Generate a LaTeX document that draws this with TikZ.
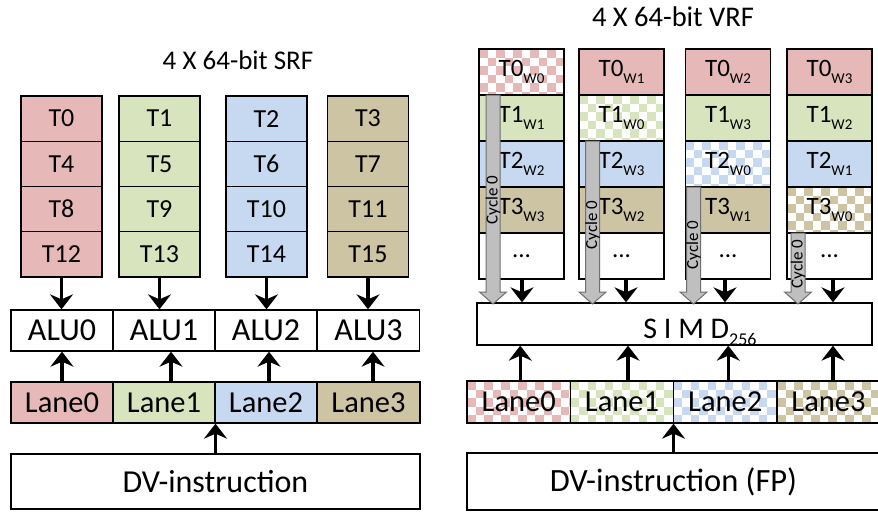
\documentclass[tikz,border=0pt]{standalone}
\usepackage{fontspec}
\setmainfont{Carlito}
\usetikzlibrary{arrows.meta}
\definecolor{cpink}{HTML}{E6B9B8}
\definecolor{cgreen}{HTML}{D7E4BD}
\definecolor{cblue}{HTML}{C6D9F1}
\definecolor{colive}{HTML}{CCC4A2}
\definecolor{cgray}{HTML}{BFBFBF}
\definecolor{cgrayline}{HTML}{6F6F6F}
\newcommand\fs[1]{\fontsize{#1}{#1}\selectfont}
\newcommand\Wsub[1]{\raisebox{-0.3em}{\fs{15}#1}}
\newcommand\chk[5]{%
  \begin{scope}
    \clip (#1,#2) rectangle (#3,#4);
    \fill[white] (#1,#2) rectangle (#3,#4);
    \foreach \i in {0,...,13}{\foreach \j in {0,...,6}{%
      \pgfmathtruncatemacro\chkp{mod(\i+\j,2)}%
      \ifnum\chkp=0 \fill[#5] ({#1+\i*8.5},{#2+\j*8.5}) rectangle ++(8.5,8.5);\fi
    }}
  \end{scope}}
\begin{document}
\begin{tikzpicture}[x=1pt,y=-1pt,
  box/.style={draw=black, line width=1.3pt, inner sep=0pt},
  lcell/.style={box, minimum width=81pt, minimum height=45.25pt, font=\fs{26}},
  rcell/.style={box, minimum width=85pt, minimum height=46pt, font=\fs{25}},
  blk/.style={line width=3.4pt, -{Stealth[length=15pt,width=23pt,inset=5pt]}},
  garr/.style={draw=cgrayline, fill=cgray, line width=1pt},
  cyc/.style={rotate=90, font=\fs{17}, inner sep=0pt},
  lane/.style={box, minimum height=41pt, font=\fs{30.5}}
]
\useasboundingbox (0,0) rectangle (878,512);
\fill[white] (0,0) rectangle (878,512);

% ---------------- LEFT: SRF ----------------
\node[font=\fs{27}] (srf) at (238,60) {4 X 64-bit SRF};

\foreach \c/\x/\col/\a/\b/\cc/\d in {0/61.5/cpink/T0/T4/T8/T12, 1/159.5/cgreen/T1/T5/T9/T13, 2/266.5/cblue/T2/T6/T10/T14, 3/368/colive/T3/T7/T11/T15}{
  \node[lcell, fill=\col] (s\c0) at (\x,118.6) {\a};
  \node[lcell, fill=\col] (s\c1) at (\x,163.9) {\b};
  \node[lcell, fill=\col] (s\c2) at (\x,209.1) {\cc};
  \node[lcell, fill=\col] (s\c3) at (\x,254.4) {\d};
}

\foreach \i/\x in {0/62,1/164,2/266,3/368.5}{
  \node[box, minimum width=102pt, minimum height=41pt, font=\fs{32}] (alu\i) at (\x,330.5) {ALU\i};
}
\node[lane, fill=cpink,  minimum width=102pt] (ln0) at (62,402.5) {Lane0};
\node[lane, fill=cgreen, minimum width=102pt] (ln1) at (164,402.5) {Lane1};
\node[lane, fill=cblue,  minimum width=102pt] (ln2) at (266,402.5) {Lane2};
\node[lane, fill=colive, minimum width=103pt] (ln3) at (368.5,402.5) {Lane3};

\node[box, minimum width=409pt, minimum height=55pt, font=\fs{32}] (dv) at (215.5,481.5) {DV-instruction};

\foreach \c in {0,1,2,3}{
  \draw[blk] (s\c3.south) -- (s\c3.south |- alu\c.north);
}
\draw[blk] (ln0.north) -- (ln0.north |- alu0.south);
\draw[blk] ([xshift=7pt]ln1.north) -- ([xshift=7pt]ln1.north |- alu1.south);
\draw[blk] ([xshift=3pt]ln2.north) -- ([xshift=3pt]ln2.north |- alu2.south);
\draw[blk] ([xshift=4.5pt]ln3.north) -- ([xshift=4.5pt]ln3.north |- alu3.south);
\draw[blk] (dv.north) -- (dv.north |- ln1.south);

% ---------------- RIGHT: VRF ----------------
\node[font=\fs{28.5}] (vrf) at (673,17) {4 X 64-bit VRF};

% checkered backgrounds
\chk{479}{49}{564}{95}{cpink}
\chk{579}{95}{664}{141}{cgreen}
\chk{685}{141}{771}{187}{cblue}
\chk{787}{187}{872}{233}{colive}
\chk{467}{381}{570.5}{423}{cpink}
\chk{570.5}{381}{673.5}{423}{cgreen}
\chk{673.5}{381}{777}{423}{cblue}
\chk{777}{381}{880}{423}{colive}

% column A
\node[rcell]              (a0) at (521.5,72)  {T0\Wsub{W0}};
\node[rcell, fill=cgreen] (a1) at (521.5,118) {T1\Wsub{W1}};
\node[rcell, fill=cblue]  (a2) at (521.5,164) {T2\Wsub{W2}};
\node[rcell, fill=colive] (a3) at (521.5,210) {T3\Wsub{W3}};
\node[rcell]              (a4) at (521.5,256) {...};
% column B
\node[rcell, fill=cpink]  (b0) at (621.5,72)  {T0\Wsub{W1}};
\node[rcell]              (b1) at (621.5,118) {T1\Wsub{W0}};
\node[rcell, fill=cblue]  (b2) at (621.5,164) {T2\Wsub{W3}};
\node[rcell, fill=colive] (b3) at (621.5,210) {T3\Wsub{W2}};
\node[rcell]              (b4) at (621.5,256) {...};
% column C
\node[rcell, fill=cpink]  (c0) at (728,72)  {T0\Wsub{W2}};
\node[rcell, fill=cgreen] (c1) at (728,118) {T1\Wsub{W3}};
\node[rcell]              (c2) at (728,164) {T2\Wsub{W0}};
\node[rcell, fill=colive] (c3) at (728,210) {T3\Wsub{W1}};
\node[rcell]              (c4) at (728,256) {...};
% column D
\node[rcell, fill=cpink]  (d0) at (829.5,72)  {T0\Wsub{W3}};
\node[rcell, fill=cgreen] (d1) at (829.5,118) {T1\Wsub{W2}};
\node[rcell, fill=cblue]  (d2) at (829.5,164) {T2\Wsub{W1}};
\node[rcell]              (d3) at (829.5,210) {T3\Wsub{W0}};
\node[rcell]              (d4) at (829.5,256) {...};

% SIMD
\node[box, minimum width=395pt, minimum height=42pt] (simd) at (674.5,324) {};
\node[font=\fs{30}, anchor=base, inner sep=0pt] (simdtxt) at (700,338) {S I M D\raisebox{-7pt}{\fs{18}256}};

% lanes
\node[lane, minimum width=103.5pt, minimum height=42pt] (rl0) at (518.75,402) {Lane0};
\node[lane, minimum width=103pt, minimum height=42pt] (rl1) at (622,402) {Lane1};
\node[lane, minimum width=103.5pt, minimum height=42pt] (rl2) at (725.25,402) {Lane2};
\node[lane, minimum width=103pt, minimum height=42pt] (rl3) at (828.5,402) {Lane3};

\node[box, minimum width=413pt, minimum height=57pt, font=\fs{32.5}] (dvfp) at (673.5,481.5) {DV-instruction (FP)};

% gray cycle arrows
\foreach \n/\xc/\yt/\yl in {ga/493/95/200, gb/592.5/141/225, gc/693.5/187/245, gd/798/233/264}{
  \draw[garr] ({\xc-7},\yt) -- ({\xc+7},\yt) -- ({\xc+7},292) -- ({\xc+13.5},292) -- (\xc,304) -- ({\xc-13.5},292) -- ({\xc-7},292) -- cycle;
  \node[cyc] (\n) at (\xc,\yl) {Cycle 0};
}

% black arrows
\draw[blk] ([xshift=0.5pt]a4.south) -- ([xshift=0.5pt]a4.south |- simd.north);
\draw[blk] ([xshift=4.5pt]b4.south) -- ([xshift=4.5pt]b4.south |- simd.north);
\draw[blk] ([xshift=-3pt]c4.south) -- ([xshift=-3pt]c4.south |- simd.north);
\draw[blk] ([xshift=3.5pt]d4.south) -- ([xshift=3.5pt]d4.south |- simd.north);

\draw[blk] ([xshift=1.5pt]rl0.north) -- ([xshift=1.5pt]rl0.north |- simd.south);
\draw[blk] ([xshift=6pt]rl1.north) -- ([xshift=6pt]rl1.north |- simd.south);
\draw[blk] ([xshift=3pt]rl2.north) -- ([xshift=3pt]rl2.north |- simd.south);
\draw[blk] ([xshift=4.5pt]rl3.north) -- ([xshift=4.5pt]rl3.north |- simd.south);

\draw[blk] (dvfp.north) -- (dvfp.north |- rl1.south);
\end{tikzpicture}
\end{document}
